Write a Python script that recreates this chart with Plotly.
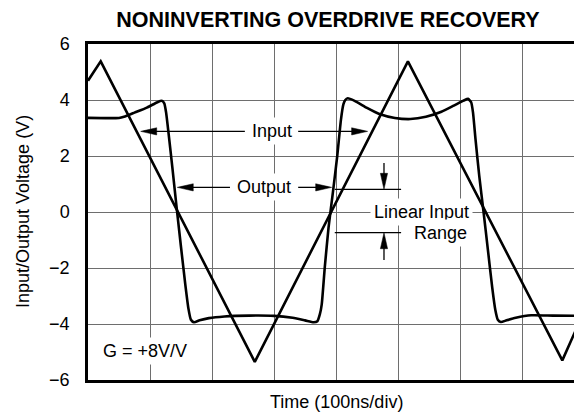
import plotly.graph_objects as go

# ---------------- data (x in divisions of 100 ns, y in volts) ----------------
inp_x = [0.0, 0.205, 2.69, 5.16, 7.65, 7.968]
inp_y = [4.69, 5.38, -5.35, 5.38, -5.30, -3.72]

out_x = [0.00, 0.50, 0.58, 0.75, 0.95, 1.12, 1.19, 1.23, 1.26, 1.30, 1.36, 1.43,
         1.50, 1.57, 1.62, 1.66, 1.71, 1.80, 1.95, 2.20, 2.60, 3.00, 3.30, 3.50,
         3.64, 3.70, 3.74, 3.77, 3.82, 3.88, 3.95, 4.02, 4.08, 4.12, 4.15, 4.19,
         4.30, 4.50, 4.70, 4.95, 5.20, 5.45, 5.70, 5.90, 6.06, 6.13, 6.18, 6.21,
         6.25, 6.31, 6.38, 6.45, 6.52, 6.57, 6.61, 6.66, 6.75, 6.90, 7.15, 7.50, 7.968]
out_y = [3.36, 3.36, 3.40, 3.55, 3.73, 3.92, 3.97, 3.88, 3.55, 2.80, 1.60, 0.15,
         -1.25, -2.60, -3.45, -3.85, -3.94, -3.87, -3.79, -3.73, -3.70, -3.71, -3.78, -3.87,
         -3.94, -3.90, -3.65, -3.30, -1.95, -0.55, 0.70, 2.00, 3.30, 3.85, 4.00, 4.06,
         3.97, 3.72, 3.50, 3.36, 3.32, 3.40, 3.58, 3.80, 3.98, 4.04, 3.92, 3.55,
         2.60, 1.30, 0.00, -1.35, -2.70, -3.50, -3.85, -3.93, -3.87, -3.78, -3.69, -3.70, -3.71]

y_ticks = [-6, -4, -2, 0, 2, 4, 6]
x_range = [0, 8]
y_range = [-6, 6]

title_text = "<b>NONINVERTING OVERDRIVE RECOVERY</b>"
x_title = "Time (100ns/div)"
y_title = "Input/Output Voltage (V)"

FONT = "Liberation Sans, Arial, Helvetica, sans-serif"
PX_X = 62.0   # pixels per division
PX_Y = 28.0   # pixels per volt

# page body has an 8px margin; figure is laid out to compensate
W, H = 576, 406

fig = go.Figure()
fig.add_trace(go.Scatter(x=inp_x, y=inp_y, mode="lines", name="Input",
                         line=dict(color="black", width=2.6), hoverinfo="skip"))
fig.add_trace(go.Scatter(x=out_x, y=out_y, mode="lines", name="Output",
                         line=dict(color="black", width=2.6, shape="spline", smoothing=0.5),
                         hoverinfo="skip"))

shapes = []

def seg(x0, y0, x1, y1):
    shapes.append(dict(type="line", xref="x", yref="y", x0=x0, y0=y0, x1=x1, y1=y1,
                       line=dict(color="black", width=1.3), layer="above"))

def head(tx, ty, direction, L=16.0, Wd=3.6):
    dx, dy = {"left": (-1, 0), "right": (1, 0), "up": (0, -1), "down": (0, 1)}[direction]
    bx, by = -dx * L, -dy * L
    px, py = -dy * Wd, dx * Wd
    pts = [(0, 0), (bx + px, by + py), (bx - px, by - py)]
    d = "M " + " L ".join(f"{tx + ox / PX_X},{ty - oy / PX_Y}" for ox, oy in pts) + " Z"
    shapes.append(dict(type="path", xref="x", yref="y", path=d, fillcolor="black",
                       line=dict(color="black", width=0.5), layer="above"))

# Input arrows
seg(0.90, 2.88, 2.53, 2.88); head(0.85, 2.88, "left")
seg(3.39, 2.88, 4.45, 2.88); head(4.51, 2.88, "right")
# Output arrows
seg(1.50, 0.88, 2.29, 0.88); head(1.44, 0.88, "left")
seg(3.39, 0.88, 3.87, 0.88); head(3.93, 0.88, "right")
# Linear input range markers
seg(3.98, 0.81, 5.05, 0.81)
seg(3.98, -0.74, 5.05, -0.74)
seg(4.774, 1.75, 4.774, 1.0); head(4.774, 0.81, "down")
seg(4.774, -1.71, 4.774, -0.95); head(4.774, -0.74, "up")

tf = dict(family=FONT, size=18, color="black")
annotations = [
    dict(x=2.96, y=2.88, xref="x", yref="y", text="Input", showarrow=False,
         font=tf, bgcolor="white", borderpad=3),
    dict(x=2.84, y=0.88, xref="x", yref="y", text="Output", showarrow=False,
         font=tf, bgcolor="white", borderpad=3),
    dict(x=6.21, y=0.01, xref="x", yref="y", text="Linear Input", showarrow=False,
         xanchor="right", font=tf, bgcolor="white", borderpad=3),
    dict(x=6.18, y=-0.76, xref="x", yref="y", text="Range", showarrow=False,
         xanchor="right", font=tf, bgcolor="white", borderpad=3),
    dict(x=0.177, y=-4.96, xref="x", yref="y", text="G = +8V/V", showarrow=False,
         xanchor="left", font=tf, bgcolor="white", borderpad=3),
    dict(x=4.0, y=0, xref="x", yref="paper", text=x_title, showarrow=False,
         xanchor="center", yanchor="middle", yshift=-22, font=tf),
    dict(x=0, y=0.5, xref="paper", yref="paper", text=y_title, showarrow=False,
         textangle=-90, xanchor="center", yanchor="middle", xshift=-65, font=tf),
]

fig.update_layout(
    width=W, height=H,
    margin=dict(l=80, r=0, t=36, b=34),
    paper_bgcolor="white", plot_bgcolor="white",
    showlegend=False,
    font=dict(family=FONT, size=18, color="black"),
    title=dict(text=title_text, x=320 / W, xref="container", xanchor="center",
               y=1 - 11 / H, yref="container", yanchor="middle",
               font=dict(family=FONT, size=21.5, color="black")),
    xaxis=dict(range=x_range, dtick=1, tick0=0, showgrid=True, gridcolor="#6e6e6e",
               gridwidth=1, showticklabels=False, ticks="", zeroline=False,
               showline=True, linecolor="black", linewidth=2.5, mirror=True,
               fixedrange=True),
    yaxis=dict(range=y_range, tickvals=y_ticks, showgrid=True, gridcolor="#6e6e6e",
               gridwidth=1, ticks="", zeroline=False, showline=True, linecolor="black",
               linewidth=2.5, mirror=False, tickfont=dict(family=FONT, size=18),
               ticklabelstandoff=12, fixedrange=True),
    shapes=shapes,
    annotations=annotations,
)

fig.write_html("out.html")
